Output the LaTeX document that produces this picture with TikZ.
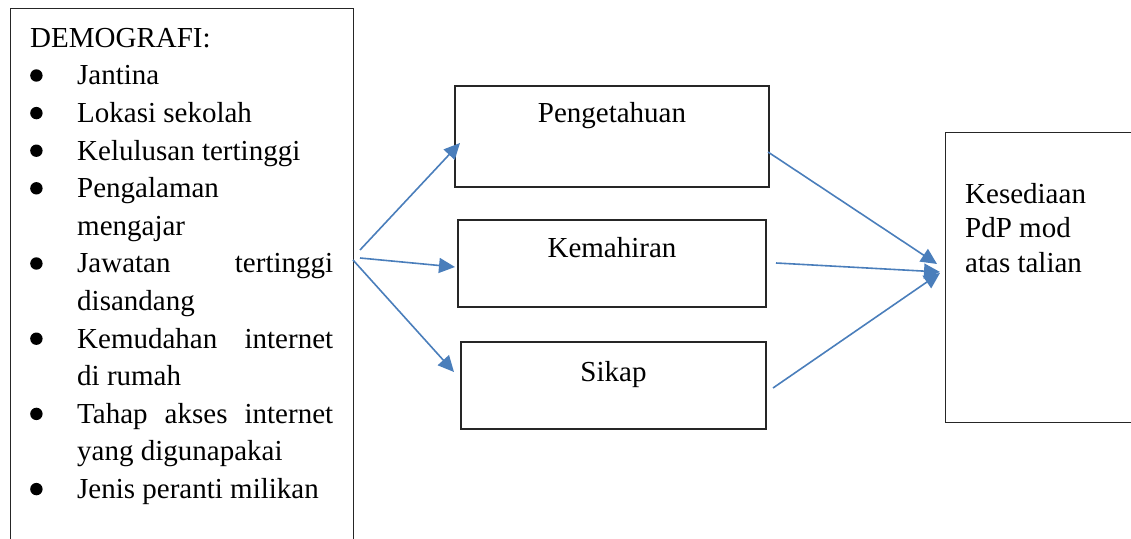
\documentclass[tikz,border=0pt]{standalone}
\usepackage{fontspec}
\setmainfont{Liberation Serif}
\usepackage{tikz}
\usetikzlibrary{positioning, arrows.meta}
\usepackage{xcolor}
\definecolor{wordblue}{RGB}{74,126,187}

\newcommand{\demofont}{\fontsize{29}{37.6}\selectfont}
\newcommand{\demobullet}{\tikz[baseline=-9.3pt]\fill[black] (0,0) circle (6.2pt);}
\newenvironment{demolist}{%
  \begin{list}{\demobullet}{%
    \setlength{\leftmargin}{47pt}\setlength{\labelsep}{0pt}%
    \setlength{\labelwidth}{47pt}\setlength{\itemsep}{0pt}%
    \setlength{\parsep}{0pt}\setlength{\topsep}{-3.6pt}%
    \setlength{\partopsep}{0pt}\def\makelabel##1{##1\hfil}}}%
  {\end{list}}

\begin{document}
\begin{tikzpicture}[
    x=1pt, y=1pt,
    box/.style={draw=black!85,line width=1.2pt,inner sep=0pt},
    txt/.style={font=\demofont,inner sep=0pt},
    arr/.style={draw=wordblue,line width=1.6pt,-{Triangle[length=16pt,width=15pt]}}
]
\useasboundingbox (0,0) rectangle (1131,538);
\clip (0,0) rectangle (1131,538);

% =============================
% 0. Demografi (left box)
% =============================
\node[box,anchor=north west,minimum width=343pt,minimum height=560pt] (demo) at (10,530) {};
\node[txt,anchor=north west,text width=303pt,align=justify] (demotext) at (30,517.3) {%
\hyphenpenalty=10000\exhyphenpenalty=10000
\strut DEMOGRAFI:
\begin{demolist}
\item Jantina
\item Lokasi sekolah
\item Kelulusan tertinggi
\item Pengalaman\newline mengajar
\item Jawatan tertinggi\linebreak disandang
\item Kemudahan internet\linebreak di rumah
\item Tahap akses internet\linebreak yang digunapakai
\item Jenis peranti milikan
\end{demolist}};

% =============================
% 1. Middle boxes
% =============================
\node[box,minimum width=314pt,minimum height=101pt] (peng) at (612,401.5) {};
\node[box,minimum width=308pt,minimum height=87pt] (mahir) at (612,274.5) {};
\node[box,minimum width=305pt,minimum height=87pt] (sikap) at (613.5,152.5) {};

\node[txt,anchor=base] (tpeng) at ([yshift=-37pt]peng.north) {Pengetahuan};
\node[txt,anchor=base] (tmahir) at ([yshift=-38pt]mahir.north) {Kemahiran};
\node[txt,anchor=base] (tsikap) at ([yshift=-40pt]sikap.north) {Sikap};

% =============================
% 2. Kesediaan (right box)
% =============================
\node[box,anchor=north west,minimum width=220pt,minimum height=290pt] (sedia) at (945,406) {};
\node[txt,anchor=north west,align=left,font=\fontsize{29}{34.5}\selectfont] (tsedia) at (965,359.2)
  {\strut Kesediaan\\PdP mod\\atas talian};

% =============================
% 3. Arrows
% =============================
\coordinate (d1) at (360,288);
\coordinate (d2) at (360,280);
\coordinate (d3) at (353,278);
\coordinate (p1) at (460,395);
\coordinate (m1) at (455,271);
\coordinate (s1) at (454,166);

\coordinate (p2) at (768,386);
\coordinate (m2) at (776,275);
\coordinate (s2) at (773,150);
\coordinate (k1) at (937,274);
\coordinate (k2) at (940,266);
\coordinate (k3) at (940,265);

\draw[arr] (d1) -- (p1);
\draw[arr] (d2) -- (m1);
\draw[arr] (d3) -- (s1);

\draw[arr] (p2) -- (k1);
\draw[arr] (m2) -- (k2);
\draw[arr] (s2) -- (k3);
\end{tikzpicture}
\end{document}
